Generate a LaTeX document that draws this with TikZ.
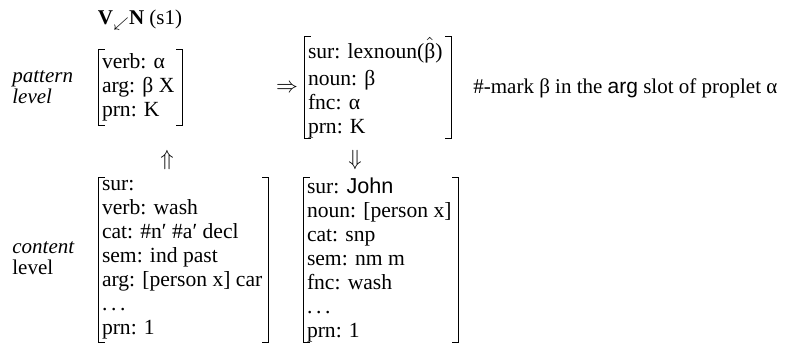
\documentclass[tikz,border=0pt]{standalone}
\usepackage{fontspec}
\setmainfont{Liberation Serif}
\newfontfamily\sansfont{Liberation Sans}
\usepackage{tikz}
\usetikzlibrary{positioning}

\tikzset{
  frame/.style={inner sep=0pt},
  slots/.style={anchor=west,align=left,inner sep=0pt,font=\fontsize{10.8}{12}\selectfont},
  levelname/.style={anchor=west,align=left,inner sep=0pt,font=\fontsize{10.5}{10.5}\selectfont},
  bracket/.style={line width=0.5pt},
}
% square brackets round a proplet frame
\newcommand{\propletframe}[1]{%
  \draw[bracket] ([xshift=3pt]#1.north west) -- (#1.north west) -- (#1.south west) -- ++(3pt,0);
  \draw[bracket] ([xshift=-3pt]#1.north east) -- (#1.north east) -- (#1.south east) -- ++(-3pt,0);}
\newcommand{\slotdots}{.\hspace{0.17em}.\hspace{0.17em}.}

\begin{document}
\begin{tikzpicture}[x=0.5pt,y=-0.5pt]
  \useasboundingbox (0,0) rectangle (791,343);
  \node[font=\fontsize{10.5}{12}\selectfont] (title) at (140,20) {\textbf{V}\raisebox{-1.5pt}{\scriptsize$\swarrow$}\textbf{N} (s1)};
  \node[levelname,font=\fontsize{10.5}{10.5}\selectfont\itshape] (patlevel) at (12,87) {pattern\\level};
  \node[levelname] (contlevel) at (12,258) {\textit{content}\\level};
  % pattern level
  \node[frame,minimum width=41.5pt,minimum height=37.5pt] (pat1) at (140.5,87.5) {};
  \node[slots] (pat1 text) at ([xshift=1.5pt]pat1.west) {verb: α\\arg: β X\\prn: K};
  \propletframe{pat1}
  \node[frame,minimum width=73pt,minimum height=50.5pt] (pat2) at (378,87.5) {};
  \node[slots] (pat2 text) at ([xshift=1.5pt]pat2.west) {sur: lexnoun(\ensuremath{\hat{\mbox{β}}})\\[1.5pt]noun: β\\fnc: α\\prn: K};
  \propletframe{pat2}
  \node[font=\fontsize{10.5}{12}\selectfont] (then) at (287,88) {$\Rightarrow$};
  \node[slots,font=\fontsize{10.5}{12}\selectfont] (note) at (473,88) {\#-mark β in the {\sansfont arg} slot of proplet α};
  % content level
  \node[frame,minimum width=84.5pt,minimum height=82pt] (cont1) at (183.5,260) {};
  \node[slots] (cont1 text) at ([xshift=1.5pt]cont1.west) {sur:\\verb: wash\\cat: \#n′ \#a′ decl\\sem: ind past\\arg: [person x] car\\\slotdots\\prn: 1};
  \propletframe{cont1}
  \node[frame,minimum width=77pt,minimum height=82pt] (cont2) at (381,260) {};
  \node[slots] (cont2 text) at ([xshift=1.5pt]cont2.west) {sur: {\sansfont John}\\noun: [person x]\\cat: snp\\sem: nm m\\fnc: wash\\\slotdots\\prn: 1};
  \propletframe{cont2}
  \node[font=\fontsize{10.5}{12}\selectfont] (up) at (167,160) {$\Uparrow$};
  \node[font=\fontsize{10.5}{12}\selectfont] (down) at (355,160) {$\Downarrow$};
\end{tikzpicture}
\end{document}
